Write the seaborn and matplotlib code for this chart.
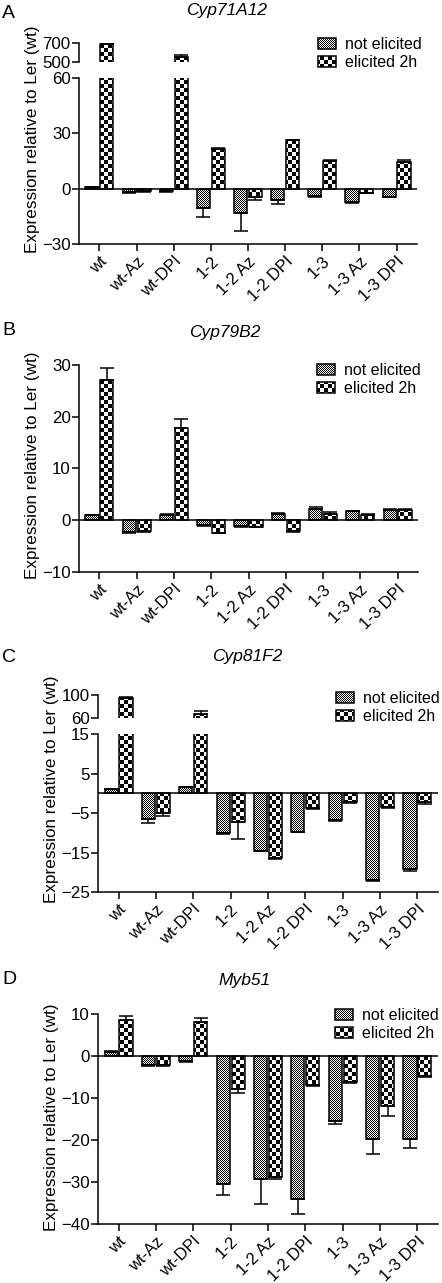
import numpy as np
import pandas as pd
import matplotlib
matplotlib.use("Agg")
import matplotlib.pyplot as plt
import seaborn as sns
from matplotlib.transforms import Bbox, IdentityTransform
from matplotlib.path import Path

# ---------------- data ----------------
lines = ["wt", "wt-Az", "wt-DPI", "1-2", "1-2 Az", "1-2 DPI", "1-3", "1-3 Az", "1-3 DPI"]
conditions = ["not elicited", "elicited 2h"]
genes = ["Cyp71A12", "Cyp79B2", "Cyp81F2", "Myb51"]
letters = ["A", "B", "C", "D"]
ylabel = "Expression relative to Ler (wt)"

A_not = [0.8, -1.8, -1.5, -10.5, -13.4, -6.1, -3.8, -7.0, -4.3]
A_el = [693, -1.5, 552, 21.5, -4.7, 26.3, 15.0, -2.2, 14.3]
A_not_err = [0.1, 0.3, 0.3, 4.9, 9.6, 2.0, 0.5, 0.7, 0.4]
A_el_err = [2, 0.3, 22, 0.5, 1.6, 0.3, 0.5, 0.3, 1.2]

B_not = [1.0, -2.3, 1.1, -1.0, -1.2, 1.2, 2.2, 1.7, 2.0]
B_el = [27.1, -2.1, 17.9, -2.4, -1.3, -2.0, 1.3, 1.1, 2.0]
B_not_err = [0.1, 0.2, 0.1, 0.1, 0.1, 0.2, 0.3, 0.1, 0.1]
B_el_err = [2.4, 0.1, 1.6, 0.1, 0.1, 0.2, 0.2, 0.1, 0.1]

C_not = [1.0, -6.5, 1.5, -10.0, -14.6, -9.7, -6.8, -22.0, -19.2]
C_el = [95.4, -4.9, 67.0, -7.2, -16.5, -3.7, -2.3, -3.5, -2.2]
C_not_err = [0.1, 1.1, 0.1, 0.3, 0.1, 0.1, 0.2, 0.1, 0.6]
C_el_err = [1.5, 0.8, 4.5, 4.3, 0.1, 0.3, 0.2, 0.2, 0.4]

D_not = [1.0, -2.2, -1.3, -30.4, -29.3, -34.0, -15.5, -19.8, -19.7]
D_el = [8.5, -2.1, 8.0, -7.8, -28.7, -6.9, -6.2, -11.8, -4.8]
D_not_err = [0.1, 0.1, 0.2, 2.8, 5.9, 3.5, 0.8, 3.5, 2.2]
D_el_err = [1.0, 0.2, 1.0, 0.9, 0.7, 0.3, 0.2, 2.6, 0.3]

A_lower_ticks = [-30, 0, 30, 60]
A_upper_ticks = [500, 700]
B_ticks = [-10, 0, 10, 20, 30]
C_lower_ticks = [-25, -15, -5, 5, 15]
C_upper_ticks = [60, 100]
D_ticks = [-40, -30, -20, -10, 0, 10]

# ---------------- layout (pixels) ----------------
W, H = 442, 1283
panels = [
    dict(vals=(A_not, A_el), errs=(A_not_err, A_el_err),
         lower=(79, 78, 417, 244), lticks=A_lower_ticks,
         upper=(79, 43, 417, 62), uticks=A_upper_ticks,
         letter=(2, 13), title=(227, 11), ylab=(33, 139), legend=(318, 37)),
    dict(vals=(B_not, B_el), errs=(B_not_err, B_el_err),
         lower=(79, 365, 418, 572), lticks=B_ticks, upper=None, uticks=None,
         letter=(2, 331), title=(225, 332), ylab=(33, 465), legend=(317, 363)),
    dict(vals=(C_not, C_el), errs=(C_not_err, C_el_err),
         lower=(98, 734, 438, 892), lticks=C_lower_ticks,
         upper=(98, 695, 438, 718), uticks=C_upper_ticks,
         letter=(2, 657), title=(247, 656), ylab=(52, 789), legend=(336, 691)),
    dict(vals=(D_not, D_el), errs=(D_not_err, D_el_err),
         lower=(98, 1014, 438, 1224), lticks=D_ticks, upper=None, uticks=None,
         letter=(2, 980), title=(245, 981), ylab=(52, 1117), legend=(335, 1008)),
]

sns.set_theme(style="ticks", rc={
    "axes.edgecolor": "black", "xtick.color": "black", "ytick.color": "black",
    "text.color": "black", "axes.labelcolor": "black", "axes.linewidth": 1.1,
})
plt.rcParams["font.family"] = ["Liberation Sans", "DejaVu Sans"]

fig = plt.figure(figsize=(W / 100, H / 100), dpi=100)


def add_ax(box):
    l, t, r, b = box
    return fig.add_axes([l / W, 1 - b / H, (r - l) / W, (b - t) / H])


bar_sets = {0: [], 1: []}  # (patch, axes)
legends = []

for idx, p in enumerate(panels):
    df = pd.DataFrame({
        "line": lines * 2,
        "condition": [conditions[0]] * len(lines) + [conditions[1]] * len(lines),
        "value": list(p["vals"][0]) + list(p["vals"][1]),
    })
    axes_list = []
    low = add_ax(p["lower"])
    axes_list.append(("lower", low))
    if p["upper"] is not None:
        up = add_ax(p["upper"])
        axes_list.append(("upper", up))
    for kind, ax in axes_list:
        sns.barplot(data=df, x="line", y="value", hue="condition", order=lines,
                    hue_order=conditions, width=0.8, gap=0.12, errorbar=None,
                    legend=False, ax=ax)
        for hi, cont in enumerate(ax.containers[:2]):
            xs = []
            for patch in cont:
                patch.set_facecolor("none")
                patch.set_edgecolor("black")
                patch.set_linewidth(1.1)
                xs.append(patch.get_x() + patch.get_width() / 2)
                bar_sets[hi].append((patch, ax))
            vals = np.array(p["vals"][hi], dtype=float)
            errs = np.array(p["errs"][hi], dtype=float)
            lo = np.where(vals < 0, errs, 0)
            hi_e = np.where(vals >= 0, errs, 0)
            ax.errorbar(xs, vals, yerr=[lo, hi_e], fmt="none", ecolor="black",
                        elinewidth=1.1, capsize=5, capthick=1.1, zorder=3)
        ax.set_xlim(-0.55, 8.55)
        ax.set_xlabel("")
        ax.set_ylabel("")
        ax.patch.set_visible(False)
        ax.tick_params(axis="y", direction="out", length=5, width=1.1, pad=1,
                       labelsize=12.2)
        if kind == "lower":
            ticks = p["lticks"]
            ax.set_ylim(ticks[0], ticks[-1])
            ax.set_yticks(ticks)
            ax.axhline(0, color="black", lw=1.1, zorder=2.5)
            ax.spines["top"].set_visible(False)
            ax.spines["right"].set_visible(False)
            ax.set_xticks(range(len(lines)))
            ax.set_xticklabels(lines, rotation=45, ha="right",
                               rotation_mode="anchor", fontsize=12)
            ax.tick_params(axis="x", direction="out", length=5, width=1.1, pad=2)
        else:
            ticks = p["uticks"]
            ax.set_ylim(ticks[0], ticks[-1])
            ax.set_yticks(ticks)
            for s in ("top", "right", "bottom"):
                ax.spines[s].set_visible(False)
            ax.tick_params(axis="x", bottom=False, labelbottom=False)

    handles = [low.containers[0], low.containers[1]]
    lx, ly = p["legend"]
    leg = low.legend(handles, conditions, loc="upper left",
                     bbox_to_anchor=(lx / W, 1 - ly / H),
                     bbox_transform=fig.transFigure, frameon=False,
                     fontsize=11.5, handlelength=1.15, handleheight=0.7,
                     handletextpad=0.55, labelspacing=0.2, borderpad=0,
                     borderaxespad=0)
    legends.append(leg)

    # texts
    fig.text(p["letter"][0] / W, 1 - p["letter"][1] / H, letters[idx],
             ha="left", va="center", fontsize=14)
    fig.text(p["title"][0] / W, 1 - p["title"][1] / H, genes[idx],
             ha="center", va="center", fontsize=12.5, style="italic")
    fig.text(p["ylab"][0] / W, 1 - p["ylab"][1] / H, ylabel, ha="center",
             va="center", rotation=90, fontsize=12.3)

# ---------------- checker fills ----------------
fig.canvas.draw()
renderer = fig.canvas.get_renderer()


def rect_path(bb):
    x0, y0, x1, y1 = bb.x0, bb.y0, bb.x1, bb.y1
    return Path([[x0, y0], [x1, y0], [x1, y1], [x0, y1], [x0, y0]],
                [Path.MOVETO, Path.LINETO, Path.LINETO, Path.LINETO, Path.CLOSEPOLY])


yy, xx = np.mgrid[0:H, 0:W]
fine = ((xx + yy) % 2).astype(float)
coarse = (((xx // 4) + (yy // 4)) % 2).astype(float)
patterns = {0: fine, 1: coarse}

for hi in (0, 1):
    paths = []
    for patch, ax in bar_sets[hi]:
        bb = patch.get_window_extent(renderer)
        inter = Bbox.intersection(bb, ax.bbox)
        if inter is not None and inter.width > 0.5 and inter.height > 0.5:
            paths.append(rect_path(inter))
    for leg in legends:
        lp = leg.get_patches()[hi]
        paths.append(rect_path(lp.get_window_extent(renderer)))
    comp = Path.make_compound_path(*paths)
    im = fig.figimage(patterns[hi], xo=0, yo=0, cmap="gray", vmin=0, vmax=1,
                      origin="upper", zorder=-1)
    im.set_clip_path(comp, IdentityTransform())

fig.savefig("out.png", dpi=100)
